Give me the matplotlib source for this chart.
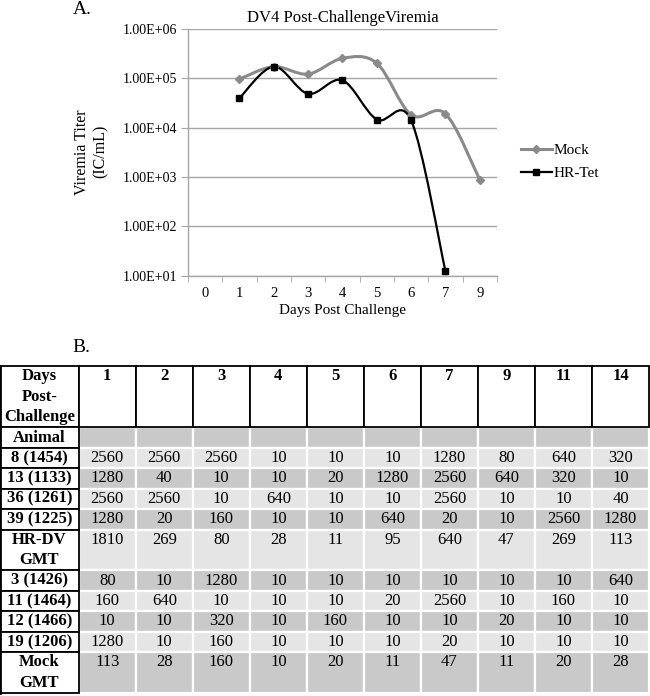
import numpy as np
import matplotlib
matplotlib.use('Agg')
import matplotlib.pyplot as plt
from matplotlib.path import Path
from matplotlib.patches import PathPatch, Rectangle
from matplotlib.lines import Line2D

plt.rcParams['font.family'] = ['Liberation Serif', 'DejaVu Serif']

# --- panel A data ---
days = ['0', '1', '2', '3', '4', '5', '6', '7', '9']
mock = [np.nan, 9.5e4, 1.7e5, 1.2e5, 2.5e5, 2.0e5, 1.8e4, 1.9e4, 8.8e2]
hr_tet = [np.nan, 3.9e4, 1.7e5, 4.8e4, 9.0e4, 1.45e4, 1.4e4, 12.6, np.nan]

# --- panel B table ---
col_days = ['1', '2', '3', '4', '5', '6', '7', '9', '11', '14']
row_labels = ['Animal', '8 (1454)', '13 (1133)', '36 (1261)', '39 (1225)',
              'HR-DV\nGMT', '3 (1426)', '11 (1464)', '12 (1466)',
              '19 (1206)', 'Mock\nGMT']
titers = [
    [''] * 10,
    ['2560', '2560', '2560', '10', '10', '10', '1280', '80', '640', '320'],
    ['1280', '40', '10', '10', '20', '1280', '2560', '640', '320', '10'],
    ['2560', '2560', '10', '640', '10', '10', '2560', '10', '10', '40'],
    ['1280', '20', '160', '10', '10', '640', '20', '10', '2560', '1280'],
    ['1810', '269', '80', '28', '11', '95', '640', '47', '269', '113'],
    ['80', '10', '1280', '10', '10', '10', '10', '10', '10', '640'],
    ['160', '640', '10', '10', '10', '20', '2560', '10', '160', '10'],
    ['10', '10', '320', '10', '160', '10', '10', '20', '10', '10'],
    ['1280', '10', '160', '10', '10', '10', '20', '10', '10', '10'],
    ['113', '28', '160', '10', '20', '11', '47', '11', '20', '28'],
]
row_shade = ['dark', 'light', 'dark', 'light', 'dark', 'light',
             'dark', 'light', 'dark', 'light', 'dark']

MOCK_C = '#8a8a8a'
GRID_C = '#a6a6a6'
SHADE = {'light': '#e5e5e5', 'dark': '#c9c9c9'}


def smooth_path(xs, ys):
    '''Excel style smoothed line: Bezier segments through the points,
    built in (index, log10 y) space'''
    pts = np.column_stack([xs, np.log10(ys)])
    n = len(pts)
    verts = [pts[0]]
    codes = [Path.MOVETO]
    for i in range(n - 1):
        p0 = pts[max(i - 1, 0)]
        p1, p2 = pts[i], pts[i + 1]
        p3 = pts[min(i + 2, n - 1)]
        verts += [p1 + (p2 - p0) / 6, p2 - (p3 - p1) / 6, p2]
        codes += [Path.CURVE4] * 3
    verts = np.array(verts)
    verts[:, 1] = 10 ** verts[:, 1]
    return Path(verts, codes)


fig = plt.figure(figsize=(6.5, 6.96), dpi=100)

# ---------------- panel A ----------------
ax = fig.add_axes([0.289, 0.6035, 0.4755, 0.3555])
idx = np.arange(len(days))
for vals, color, lw, mk, ms in [(mock, MOCK_C, 2.2, 'D', 4.5),
                                 (hr_tet, 'black', 1.6, 's', 5)]:
    vals = np.array(vals)
    ok = ~np.isnan(vals)
    ax.add_patch(PathPatch(smooth_path(idx[ok], vals[ok]), fill=False,
                           edgecolor=color, lw=lw, zorder=3))
    ax.plot(idx[ok], vals[ok], ls='none', marker=mk, ms=ms, color=color,
            zorder=4)

ax.set_yscale('log')
ax.set_ylim(10, 1e6)
ax.set_xlim(-0.5, len(days) - 0.5)
ax.set_yticks([10 ** k for k in range(1, 7)])
ax.set_yticklabels([f'1.00E+{k:02d}' for k in range(1, 7)])
ax.minorticks_off()
ax.set_xticks(idx)
ax.set_xticklabels(days)
ax.set_xticks(np.arange(len(days) + 1) - 0.5, minor=True)
ax.tick_params(axis='x', which='major', length=0, pad=8, labelsize=10.5)
ax.tick_params(axis='x', which='minor', length=4, color=GRID_C)
ax.tick_params(axis='y', length=5, color=GRID_C, labelsize=10, pad=3)
ax.grid(axis='y', color=GRID_C, lw=1)
for side in ['top', 'right']:
    ax.spines[side].set_visible(False)
for side in ['left', 'bottom']:
    ax.spines[side].set_color(GRID_C)
    ax.spines[side].set_linewidth(1)
ax.set_axisbelow(True)
ax.set_title('DV4 Post-ChallengeViremia', fontsize=12, pad=5)
ax.set_xlabel('Days Post Challenge', fontsize=11, labelpad=3)

fig.text(0.141, 0.782, 'Viremia Titer\n(IC/mL)', rotation=90, ha='center',
         va='center', fontsize=11.5, linespacing=1.2)
fig.text(0.112, 0.987, 'A.', fontsize=14, va='center')
fig.text(0.112, 0.501, 'B.', fontsize=14, va='center')

handles = [Line2D([], [], color=MOCK_C, lw=2.2, marker='D', ms=4.5),
           Line2D([], [], color='black', lw=1.6, marker='s', ms=5)]
fig.legend(handles, ['Mock', 'HR-Tet'], loc='upper left',
           bbox_to_anchor=(0.79, 0.805), frameon=False, fontsize=11,
           handlelength=2.0, handletextpad=0.1, labelspacing=0.6,
           borderpad=0)

# ---------------- panel B ----------------
tax = fig.add_axes([0.0, 0.0043, 0.9985, 0.4698])
first_w = 1.38
units = [1, 1, 1, 1, 1, 2, 1, 1, 1, 1, 2]
head_u = 3
total_u = head_u + sum(units)
tax.set_xlim(0, first_w + len(col_days))
tax.set_ylim(total_u, 0)
tax.axis('off')

col_x = [0] + [first_w + j for j in range(len(col_days))]
col_w = [first_w] + [1] * len(col_days)


def cell_text(x, w, y, lines, bold):
    for k, line in enumerate(lines.split('\n')):
        tax.text(x + w / 2, y + k + 0.5, line, ha='center', va='center',
                 fontsize=12, fontweight='bold' if bold else 'normal')


# header row
for j, (x, w) in enumerate(zip(col_x, col_w)):
    tax.add_patch(Rectangle((x, 0), w, head_u, facecolor='white',
                            edgecolor='black', lw=1.3, zorder=3,
                            clip_on=False))
    label = 'Days\nPost-\nChallenge' if j == 0 else col_days[j - 1]
    cell_text(x, w, 0, label, True)

# body rows
y = head_u
for r, lab in enumerate(row_labels):
    h = units[r]
    for j in range(len(col_days)):
        x = col_x[j + 1]
        tax.add_patch(Rectangle((x, y), 1, h, facecolor=SHADE[row_shade[r]],
                                edgecolor='white', lw=1.6, zorder=1,
                                clip_on=False))
        cell_text(x, 1, y, titers[r][j], False)
    tax.add_patch(Rectangle((0, y), first_w, h, facecolor='white',
                            edgecolor='black', lw=1.3, zorder=3,
                            clip_on=False))
    cell_text(0, first_w, y, lab, True)
    y += h
tax.plot([0, 0], [0, total_u], color='black', lw=2, zorder=4,
         clip_on=False)

fig.savefig('out.png', dpi=100)
